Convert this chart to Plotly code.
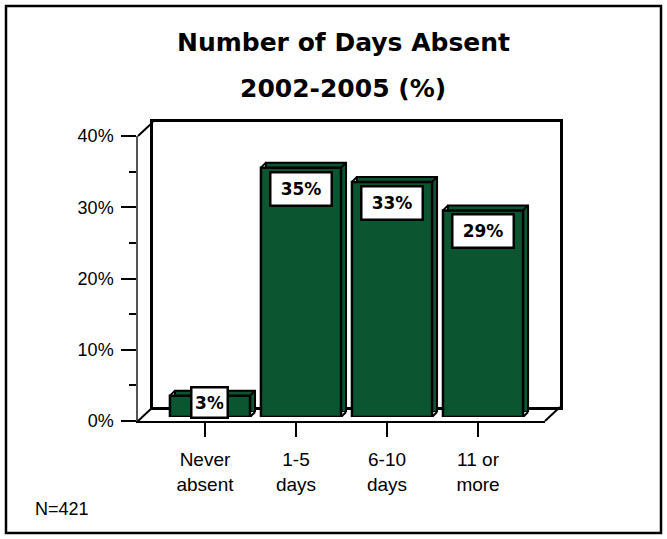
import plotly.graph_objects as go

# ---- data ----
categories = ["Never<br>absent", "1-5<br>days", "6-10<br>days", "11 or<br>more"]
values = [3, 35, 33, 29]
value_labels = [f"{v}%" for v in values]
y_tickvals = [0, 10, 20, 30, 40]
y_ticktext = ["0%", "10%", "20%", "30%", "40%"]
title_line1 = "Number of Days Absent"
title_line2 = "2002-2005 (%)"
note_text = "N=421"

# ---- layout geometry (pixels) ----
WIDTH, HEIGHT = 667, 539
L, R, T, B = 138, 560, 122, 421          # full plotting box (front + depth)
W, H = R - L, B - T
FW, FH = 407, 285                        # front plane size
DX, DY = 15, 14                          # depth of the 3D box
BFX, BFY = 5, 4                          # bar front-face offset
BBX, BBY = 10, 9                         # bar back-face offset

GREEN = "#0b5530"
xr = [-0.736, 3.736]
yr = [0, 40]
xs = list(range(len(categories)))
bar_w = 0.88

def dom(ox, oy):
    return [ox / W, (ox + FW) / W], [oy / H, (oy + FH) / H]

front_x, front_y = dom(0, 0)
back_x, back_y = dom(DX, DY)
bb_x, bb_y = dom(BBX, BBY)
bf_x, bf_y = dom(BFX, BFY)

fig = go.Figure()

# empty traces so that the wall and the front axes subplots exist
fig.add_trace(go.Scatter(x=[], y=[], xaxis="x2", yaxis="y2", showlegend=False, hoverinfo="skip"))
fig.add_trace(go.Scatter(x=[], y=[], xaxis="x", yaxis="y", showlegend=False, hoverinfo="skip"))
# bar back faces (depth)
fig.add_trace(go.Bar(x=xs, y=values, width=bar_w, xaxis="x3", yaxis="y3",
                     marker=dict(color=GREEN, line=dict(color="black", width=2)),
                     hoverinfo="skip", showlegend=False))
# bar front faces
fig.add_trace(go.Bar(x=xs, y=values, width=bar_w, xaxis="x4", yaxis="y4",
                     marker=dict(color=GREEN, line=dict(color="black", width=2.5)),
                     showlegend=False))

hidden = dict(showgrid=False, zeroline=False, showticklabels=False, ticks="")

fig.update_layout(
    width=WIDTH, height=HEIGHT,
    margin=dict(l=L, r=WIDTH - R, t=T, b=HEIGHT - B),
    paper_bgcolor="white", plot_bgcolor="rgba(0,0,0,0)",
    font=dict(family="Liberation Sans", color="black"),
    xaxis=dict(domain=front_x, range=xr, tickvals=xs, ticktext=categories,
               ticks="outside", ticklen=14, tickwidth=2, tickcolor="black",
               showline=True, linecolor="black", linewidth=2,
               showgrid=False, zeroline=False, ticklabelstandoff=6,
               tickfont=dict(family="Liberation Sans", size=19, color="black"),
               anchor="y"),
    yaxis=dict(domain=front_y, range=yr, tickvals=y_tickvals, ticktext=y_ticktext,
               ticks="outside", ticklen=15, tickwidth=2, tickcolor="black",
               minor=dict(dtick=5, ticks="outside", ticklen=7, tickwidth=2, tickcolor="black"),
               showline=True, linecolor="#555555", linewidth=1.5,
               showgrid=False, zeroline=False, ticklabelstandoff=4,
               tickfont=dict(family="Liberation Sans", size=18, color="black"),
               anchor="x"),
    xaxis2=dict(domain=back_x, range=xr, anchor="y2", showline=True, mirror=True,
                linecolor="black", linewidth=2.5, **hidden),
    yaxis2=dict(domain=back_y, range=yr, anchor="x2", showline=True, mirror=True,
                linecolor="black", linewidth=2.5, **hidden),
    xaxis3=dict(domain=bb_x, range=xr, anchor="y3", showline=False, **hidden),
    yaxis3=dict(domain=bb_y, range=yr, anchor="x3", showline=False, **hidden),
    xaxis4=dict(domain=bf_x, range=xr, anchor="y4", showline=False, **hidden),
    yaxis4=dict(domain=bf_y, range=yr, anchor="x4", showline=False, **hidden),
)

shapes = []
# connecting edges of the 3D box (plot-area fractions)
fx1, fy1 = front_x[1], front_y[1]
bx0, by0 = back_x[0], back_y[0]
bx1, by1 = back_x[1], back_y[1]
for (x0, y0, x1, y1) in [(0, 0, bx0, by0), (fx1, 0, bx1, by0), (0, fy1, bx0, by1)]:
    shapes.append(dict(type="line", xref="paper", yref="paper", x0=x0, y0=y0, x1=x1, y1=y1,
                       line=dict(color="black", width=2)))
# bar corner depth edges (pixel offsets anchored at the bar corners)
for xi, v in zip(xs, values):
    for ax, ay in [(xi - bar_w / 2, v), (xi + bar_w / 2, v), (xi + bar_w / 2, 0)]:
        shapes.append(dict(type="line", xref="x4", yref="y4",
                           xsizemode="pixel", ysizemode="pixel",
                           xanchor=ax, yanchor=ay, x0=0, y0=0,
                           x1=BBX - BFX, y1=BBY - BFY,
                           line=dict(color="black", width=2)))
# outer frame
shapes.append(dict(type="rect", xref="paper", yref="paper",
                   x0=(6 - L) / W, x1=(661 - L) / W, y0=(B - 533) / H, y1=(B - 6) / H,
                   line=dict(color="black", width=2.5), fillcolor="rgba(0,0,0,0)",
                   layer="below"))
fig.update_layout(shapes=shapes)

annotations = []
for xi, v, lab in zip(xs, values, value_labels):
    if v < 5:
        ya, yanc, ysh = 0, "bottom", -2
    else:
        ya, yanc, ysh = v, "top", -3
    annotations.append(dict(x=xi, y=ya, xref="x4", yref="y4", text=f"<b>{lab}</b>",
                            showarrow=False, yanchor=yanc, yshift=ysh,
                            bgcolor="white", bordercolor="black", borderwidth=2.5,
                            borderpad=3, height=22 if v < 5 else 25,
                            width=25 * len(lab) - 22,
                            font=dict(family="DejaVu Sans", size=17, color="black")))
annotations.append(dict(x=(343 - L) / W, y=(B - 43) / H, xref="paper", yref="paper",
                        text=f"<b>{title_line1}</b>", showarrow=False,
                        xanchor="center", yanchor="middle",
                        font=dict(family="DejaVu Sans", size=25, color="black")))
annotations.append(dict(x=(343 - L) / W, y=(B - 88) / H, xref="paper", yref="paper",
                        text=f"<b>{title_line2}</b>", showarrow=False,
                        xanchor="center", yanchor="middle",
                        font=dict(family="DejaVu Sans", size=25, color="black")))
annotations.append(dict(x=(33 - L) / W, y=(B - 509) / H, xref="paper", yref="paper",
                        text=note_text, showarrow=False, xanchor="left", yanchor="middle",
                        font=dict(family="Liberation Sans", size=18, color="black")))
fig.update_layout(annotations=annotations)

fig.write_html("out.html", config={"displayModeBar": False},
               post_script="document.body.style.margin='0';document.body.style.padding='0';")
